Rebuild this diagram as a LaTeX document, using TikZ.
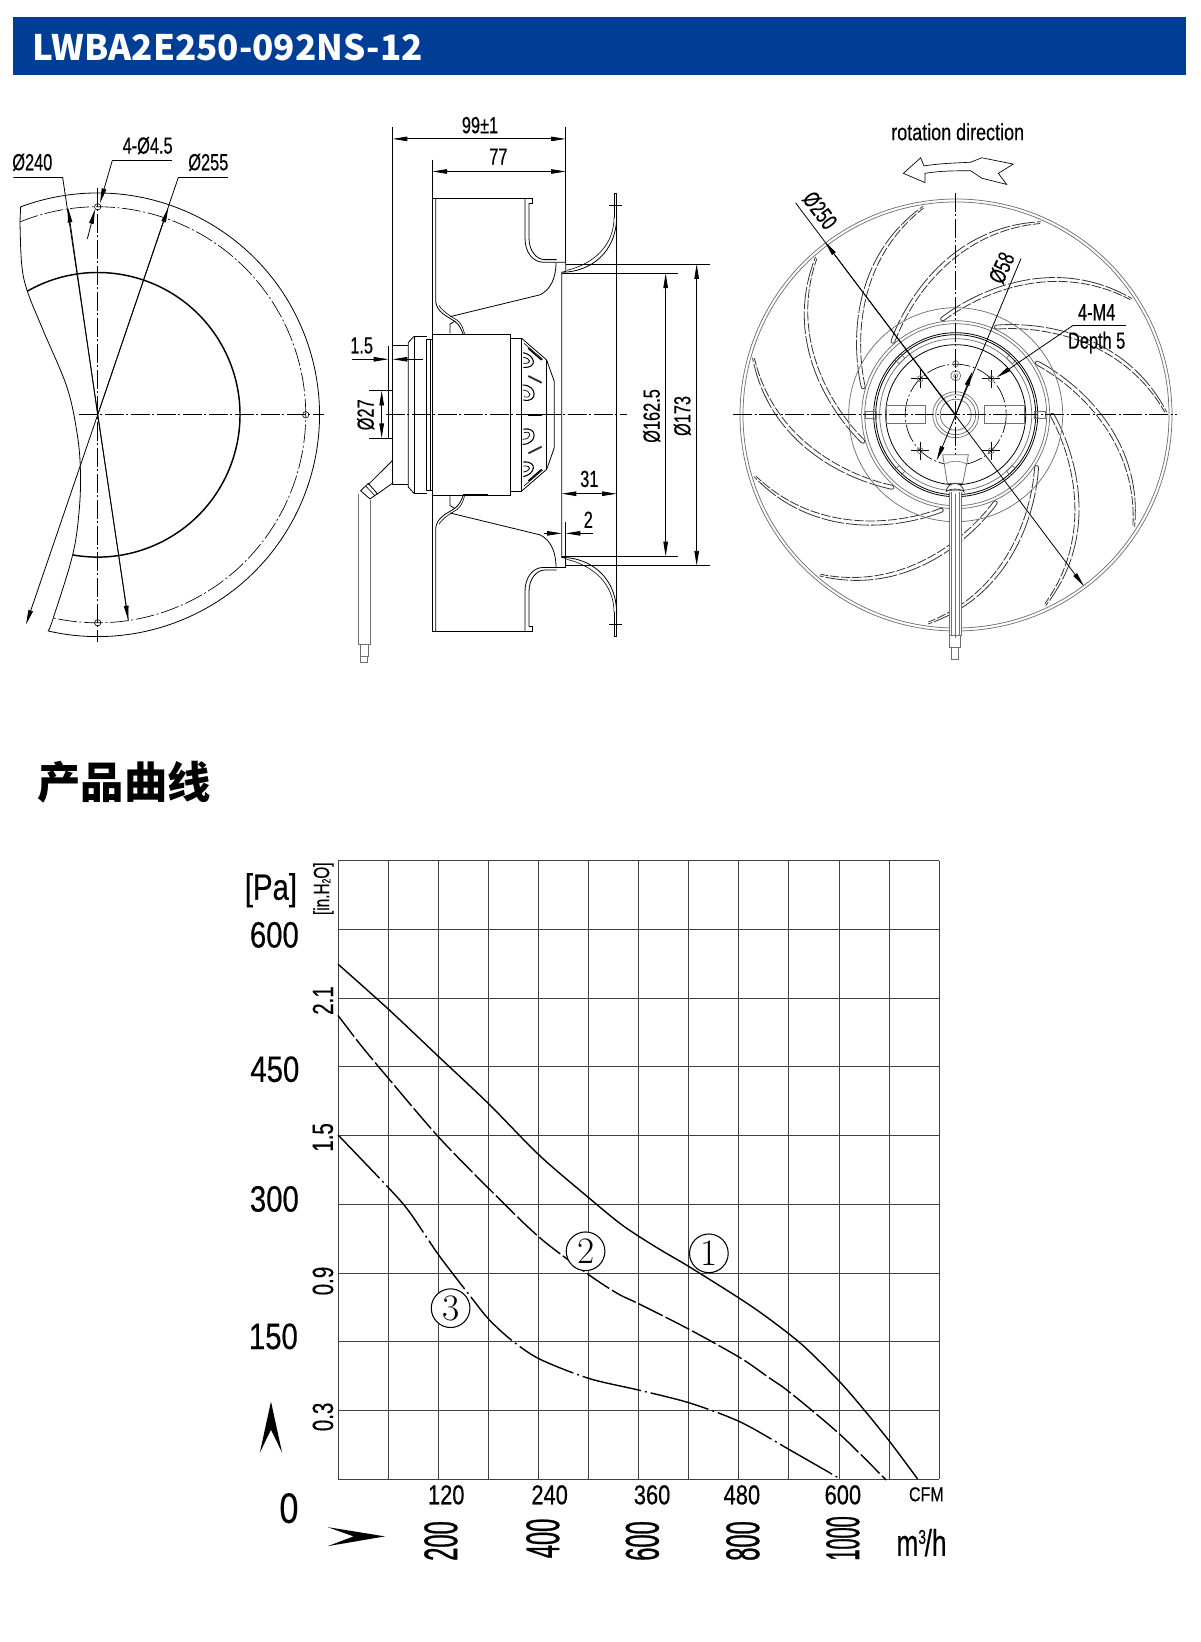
\documentclass[tikz,border=0pt]{standalone}
\usepackage{fontspec}
\usetikzlibrary{arrows.meta}
\newfontfamily\cjk{Noto Sans CJK SC}
\newfontfamily\nar[FakeStretch=0.7,FakeBold=0.35]{Liberation Sans}
\newfontfamily\narb[FakeStretch=0.8,FakeBold=0.35]{Liberation Sans}
\newfontfamily\narc[FakeStretch=0.77,FakeBold=0.35]{Liberation Sans}
\newfontfamily\nars[FakeStretch=0.5,FakeBold=0.6]{Liberation Sans}
\newfontfamily\narx[FakeStretch=0.42,FakeBold=0.6]{Liberation Sans}
\definecolor{bar}{HTML}{003E96}
\definecolor{gr}{HTML}{707070}
\definecolor{bl}{HTML}{333333}
\tikzset{
  dtip/.tip={Stealth[inset=0pt,length=11pt,width=3.4pt]},
  lw/.style={line width=.6pt},
  lt/.style={line width=.45pt},
  lg/.style={line width=.4pt,black!75},
  lthick/.style={line width=1.1pt},
  cline/.style={line width=.5pt,dash pattern=on 14pt off 2pt on 1.5pt off 2pt},
  ring/.style={line width=.55pt,gr},
  lbl/.style={font=\nar\fontsize{17.5}{20}\selectfont,inner sep=0pt},
  zoomA/.style={x=.25pt,y=-.27778pt},
  chartz/.style={x=.3641pt,y=-.3846pt},
  curve/.style={line width=1.05pt,line join=round},
  bigl/.style={font=\narb\fontsize{27.5}{30}\selectfont,inner sep=0pt},
  midl/.style={font=\nar\fontsize{22}{24}\selectfont,inner sep=0pt,rotate=90},
  cfml/.style={font=\narb\fontsize{20.5}{22}\selectfont,inner sep=0pt},
  mhl/.style={font=\nars\fontsize{35.5}{38}\selectfont,inner sep=0pt,rotate=90},
  circl/.style={circle,draw,fill=white,line width=.8pt,minimum size=29pt,inner sep=0pt,font=\fontsize{28}{28}\selectfont}
}
\newcommand{\fanhalf}{%
  \draw[lw] (277,877)--(277,292)--(578,292)--(578,305)--(567,305);
  \draw[lw] (287,292)--(287,570) .. controls (290,600) and (320,610) .. (345,625) .. controls (360,635) and (365,650) .. (370,660);
  \draw[lt] (297,582) .. controls (310,600) and (335,612) .. (352,622) .. controls (365,632) and (370,645) .. (374,660);
  \draw[lw] (330,657)--(330,632)--(345,624);
  \draw[lw] (330,612)--(600,553) .. controls (630,540) and (648,510) .. (648,466);
  \draw[lw] (555,292)--(555,400) .. controls (555,440) and (580,465) .. (610,465)--(677,465);
  \draw[lw] (567,305)--(567,400) .. controls (567,435) and (590,458) .. (615,458)--(650,458);
  \draw[lw] (677,465)--(677,490)--(665,492)--(665,877);
  \draw[lw] (670,492) .. controls (750,490) and (830,440) .. (830,340);
  \draw[lt] (680,487) .. controls (760,470) and (822,420) .. (822,345);
  \draw[lw] (822,345)--(822,278)--(830,278)--(830,877);
  \draw[lt] (808,312)--(845,312);
  \draw[lw] (277,660)--(510,660)--(510,877);
  \draw[lthick] (370,660)--(445,660);
  \draw[lw] (510,670)--(545,670)--(545,877);
  \draw[lw] (277,672)--(260,672)--(260,877);
  \draw[lw] (272,672)--(272,877);
  \draw[lw] (260,665)--(222,665)--(222,877);
  \draw[lw] (222,665)--(205,682)--(205,877);
  \draw[lw] (205,690)--(158,690)--(158,877);
}
\newcommand{\venthalf}{%
  \draw[lw] (65,55)--(140,120)--(163,185)--(163,284);
  \draw[lw] (140,120)--(140,284);
  \draw[line width=1.1pt] (85,85)--(125,120);
  \draw[lt] (72,70)--(128,118);
  \draw[line width=1.4pt,bl] (85,168)--(125,188);
  \draw[line width=.8pt] (70,98) .. controls (105,105) and (115,145) .. (70,142);
  \draw[line width=.6pt] (70,112) .. controls (92,115) and (98,132) .. (70,130);
  \draw[line width=.8pt] (68,195) .. controls (112,195) and (115,250) .. (70,240);
  \draw[line width=.5pt] (68,210) .. controls (95,210) and (98,238) .. (72,230);
}
\begin{document}
\begin{tikzpicture}[x=.75pt,y=-.75pt]
\useasboundingbox (0,0) rectangle (1200,1642);
\fill[white] (0,0) rectangle (1200,1642);
% header
\fill[bar] (13,17.3) rectangle (1186,75);
\node[anchor=base west,inner sep=0pt,text=white,font=\cjk\bfseries\fontsize{26.3}{30}\selectfont] (hdr) at (32.5,60) {LWBA2E250-092NS-12};
\node[anchor=center,inner sep=0pt,font=\cjk\bfseries\fontsize{32.5}{36}\selectfont] (ttl) at (124,782) {产品曲线};

% ---------- left view
\begin{scope}[shift={(97.7,414.8)}]
  \draw[lw] (-110.3:221.8) arc[start angle=-110.3,end angle=103,radius=221.8];
  \draw[cline] (-111.9:208) arc[start angle=-111.9,end angle=102.3,radius=208];
  \draw[lthick] (-119.6:142.3) arc[start angle=-119.6,end angle=100.1,radius=142.3];
  \foreach \p in {(0,-208),(208,0),(0,208)} {\draw[lt] \p circle[radius=3.2];}
\end{scope}
\begin{scope}[shift={(0,90)},zoomA]
  \draw[lw] (62,315)--(60,355) plot[smooth,tension=.6] coordinates {(60,355)(65,470)(82,543)(130,650)(200,800)(230,920)(241,1020)(238,1130)(218,1255)(160,1425)(145,1460)};
  \draw[cline] (237,877)--(972,877);
  \draw[cline] (293,265)--(293,1490);
  \draw[lw] (40,236)--(188,236)--(385,1432);
  \draw[lw,-{dtip}] (293,877)--(204,318);
  \draw[lw,-{dtip}] (293,877)--(385,1432);
  \draw[lw] (535,236)--(685,236);
  \draw[lw,-{dtip}] (293,877)--(78,1443);
  \draw[lw,-{dtip}] (293,877)--(505,318);
  \draw[lw] (535,236)--(293,877);
  \draw[lw] (337,190)--(517,190);
  \draw[lw,-{dtip}] (337,190)--(300,305);
  \draw[lw,-{dtip}] (262,402)--(285,322);
  \node[lbl] (d240) at (97,195) {Ø240};
  \node[lbl] (d45) at (443,150) {4-Ø4.5};
  \node[lbl] (d255) at (625,195) {Ø255};
\end{scope}

% ---------- middle view
\begin{scope}[shift={(340,90)},zoomA]
  \fanhalf
  \begin{scope}[shift={(0,1754)},yscale=-1]\fanhalf\end{scope}
  % cable
  \draw[lw] (158,1000)--(85,1065);
  \draw[lw] (160,1060)--(110,1092);
  \draw[lw] (85,1062)--(62,1082)--(90,1104)--(112,1090)--cycle;
  \draw[lt] (78,1070)--(104,1095);
  \draw[lw,gr] (56,1090)--(56,1497)--(92,1497)--(92,1108);
  \draw[lw,gr] (60,1497)--(60,1530)--(85,1530)--(85,1497);
  \draw[lw,gr] (62,1530)--(62,1546)--(82,1546)--(82,1530);
  % centre line
  \draw[cline] (138,877)--(860,877);
  % dims
  \draw[lt] (158,100)--(158,690);
  \draw[lt] (677,100)--(677,465);
  \draw[lt] (277,188)--(277,292);
  \draw[lw,{dtip}-{dtip}] (158,132)--(677,132);
  \draw[lw,{dtip}-{dtip}] (277,220)--(677,220);
  \node[lbl] (d99) at (420,95) {99±1};
  \node[lbl] (d77) at (475,180) {77};
  \draw[lt] (677,470)--(1110,470);
  \draw[lt] (677,1284)--(1110,1284);
  \draw[lt] (665,495)--(1015,495);
  \draw[lt] (665,1259)--(1015,1259);
  \draw[lw,{dtip}-{dtip}] (977,495)--(977,1259);
  \draw[lw,{dtip}-{dtip}] (1070,470)--(1070,1284);
  \node[lbl,rotate=90] (d162) at (935,880) {Ø162.5};
  \node[lbl,rotate=90] (d173) at (1027,880) {Ø173};
  \node[lbl] (d15) at (65,690) {1.5};
  \draw[lt] (145,690)--(145,940);
  \draw[lw,-{dtip}] (35,727)--(145,727);
  \draw[lw,-{dtip}] (248,727)--(158,727);
  \draw[lt] (88,812)--(158,812);
  \draw[lt] (88,940)--(158,940);
  \draw[lw,{dtip}-{dtip}] (125,812)--(125,940);
  \node[lbl,rotate=90] (d27) at (77,877) {Ø27};
  \draw[lw,{dtip}-{dtip}] (665,1090)--(830,1090);
  \node[lbl] (d31) at (748,1050) {31};
  \draw[lt] (677,1165)--(677,1290);
  \draw[lw,-{dtip}] (612,1197)--(665,1197);
  \draw[lw,-{dtip}] (760,1197)--(677,1197);
  \node[lbl] (d2) at (745,1160) {2};
\end{scope}
\begin{scope}[shift={(500,320)},x=.25pt,y=-.25pt]
  \venthalf
  \begin{scope}[shift={(0,568)},yscale=-1]\venthalf\end{scope}
  \draw[line width=1.5pt] (85,284)--(125,284);
\end{scope}

% ---------- right view
\draw[ring] (956,415) circle[radius=216];
\draw[ring] (956,415) circle[radius=213];
\foreach \k in {0,...,10}{
  \begin{scope}[shift={(955.7,414.7)},rotate=\k*360/11]
    \draw[line width=.6pt,bl,dash pattern=on 17pt off 1.6pt] (41,-89.6) .. controls (85,-93) and (170,-82) .. (211,-2.6);
    \draw[line width=.6pt,bl,dash pattern=on 7pt off 1.4pt] (41,-85.6) .. controls (83,-89) and (166,-78) .. (209,-2.6);
    \draw[line width=.6pt,bl] (41,-89.6) .. controls (38,-89.6) and (38,-85.6) .. (41,-85.6);
  \end{scope}
}
\begin{scope}[shift={(955.7,414.7)}]
  \draw[ring] (0,0) circle[radius=107];
  \draw[ring] (0,0) circle[radius=94];
  \draw[ring] (0,0) circle[radius=91];
  \draw[lw] (0,0) circle[radius=82];
  \draw[lw] (0,0) circle[radius=80];
  \draw[ring] (0,0) circle[radius=76];
  \draw[lw] (0,0) circle[radius=70];
  \draw[cline] (0,0) circle[radius=50.5];
  \draw[ring] (0,0) circle[radius=23];
  \draw[ring] (0,0) circle[radius=20];
  \draw[ring] (0,0) circle[radius=15.5];
  \draw[ring] (-69.7,-9) rectangle (-30,9);
  \draw[ring] (28.3,-9) rectangle (68.3,9);
  \draw[ring] (-90,-3.5) rectangle (-79,3.5);
  \draw[ring] (79,-3.5) rectangle (90,3.5);
  \foreach \a in {-45,-135,45,135} {\draw[ring] (\a-3:82)--(\a-3:76)--(\a+3:76)--(\a+3:82);}
  \foreach \p/\q in {-35.5/-36,35.5/-36,-35.5/36,35.5/36} {
    \draw[lw] (\p-9,\q)--(\p+9,\q);
    \draw[lw] (\p,\q-9)--(\p,\q+9);
    \draw[ring] (\p,\q) circle[radius=3];
  }
  \draw[ring] (0,-51) circle[radius=3];
  \draw[ring] (0,-39) circle[radius=5];
  \draw[ring] (0,-39) circle[radius=2];
\end{scope}
\begin{scope}[shift={(730,90)},zoomA]
  \draw[cline] (10,877)--(1340,877);
  \draw[cline] (677,278)--(677,1000);
  % cable
  \draw[lw,gr,fill=white] (638,985)--(715,985)--(712,1000)--(698,1062)--(652,1062)--(641,1000)--cycle;
  \draw[lt,gr] (645,1010) .. controls (660,1000) and (695,1000) .. (708,1010);
  \draw[lw,gr,fill=white] (658,1085)--(658,1472)--(695,1472)--(695,1085);
  \draw[lt,gr] (665,1085)--(665,1472);
  \draw[lt,gr] (688,1085)--(688,1472);
  \draw[lw,bl,fill=white] (648,1085) .. controls (652,1055) and (698,1055) .. (702,1085) .. controls (695,1075) and (655,1075) .. (648,1085);
  \draw[lt,gr] (677,1090)--(677,1480);
  \draw[lw,gr] (658,1472)--(658,1505)--(692,1505)--(692,1472);
  \draw[lw,gr] (663,1505)--(663,1538)--(685,1538)--(685,1505);
  % leaders
  \draw[lw,-{dtip}] (197,305)--(1062,1340);
  \draw[lw,-{dtip}] (677,877)--(285,410);
  \draw[lw,-{dtip}] (873,455)--(620,1000);
  \draw[lw,-{dtip}] (677,877)--(727,760);
  \draw[lw] (1188,635)--(1030,635);
  \draw[lw,-{dtip}] (1030,635)--(800,776);
  \node[inner sep=0pt,font=\narc\fontsize{17.5}{20}\selectfont] (r1) at (683,113) {rotation direction};
  \node[lbl,rotate=-53] (r2) at (270,325) {Ø250};
  \node[lbl,rotate=66] (r3) at (815,480) {Ø58};
  \node[lbl] (r4) at (1100,600) {4-M4};
  \node[lbl] (r5) at (1100,682) {Depth 5};
  \draw[line width=.5pt,line join=miter] (520,225)--(572,183)--(582,205) .. controls (630,198) and (680,197) .. (722,195)--(755,183)--(850,200)--(805,225)--(830,255)--(755,238)--(722,218) .. controls (680,218) and (630,218) .. (585,225)--(585,250)--cycle;
\end{scope}

% ---------- chart
\foreach \i in {0,...,12} {\draw[lg] ({338+50.08*\i},860.5)--({338+50.08*\i},1479);}
\foreach \i in {0,...,9} {\draw[lg] (338,{860.5+68.72*\i})--(939,{860.5+68.72*\i});}
\begin{scope}[shift={(220,840)},chartz]
  \draw[curve] plot[smooth,tension=.5] coordinates {(243,242)(347,330)(451,423)(554,515)(658,615)(760,698)(830,752)(900,795)(968,833)(1072,895)(1130,933)(1200,985)(1278,1058)(1330,1115)(1381,1175)(1437,1246)};
  \draw[curve,dash pattern=on 20pt off 2.5pt] plot[smooth,tension=.5] coordinates {(243,342)(290,400)(347,465)(451,580)(554,680)(658,775)(760,848)(820,885)(864,905)(968,955)(1072,1010)(1130,1048)(1175,1078)(1278,1160)(1372,1248)};
  \draw[curve,dash pattern=on 45pt off 3pt on 1.5pt off 3pt] plot[smooth,tension=.5] coordinates {(243,575)(347,678)(390,725)(451,810)(520,895)(554,935)(600,975)(658,1012)(760,1050)(864,1073)(968,1098)(1072,1135)(1175,1190)(1278,1246)};
  \node[circl] (c1) at (1007,806) {1};
  \node[circl] (c2) at (753,802) {2};
  \node[circl] (c3) at (475,913) {3};
  \node[bigl] (yp) at (105,98) {[Pa]};
  \node[bigl] (y600) at (112,185) {600};
  \node[bigl] (y450) at (113,447) {450};
  \node[bigl] (y300) at (112,700) {300};
  \node[bigl] (y150) at (110,968) {150};
  \node[bigl,font=\narb\fontsize{32}{34}\selectfont] (y0) at (142,1303) {0};
  \node[inner sep=0pt,rotate=90,font=\nar\fontsize{16.5}{18}\selectfont] (in) at (213,95) {[in.H\raisebox{-1pt}{\fontsize{9}{9}\selectfont 2}O]};
  \node[midl] (a) at (212,313) {2.1};
  \node[midl] (b) at (212,580) {1.5};
  \node[midl] (cc) at (212,860) {0.9};
  \node[midl] (dd) at (212,1125) {0.3};
  \node[cfml] (x1) at (466,1277) {120};
  \node[cfml] (x2) at (679,1277) {240};
  \node[cfml] (x3) at (890,1277) {360};
  \node[cfml] (x4) at (1075,1277) {480};
  \node[cfml] (x5) at (1283,1277) {600};
  \node[inner sep=0pt,font=\narb\fontsize{15}{16}\selectfont] (cfm) at (1455,1276) {CFM};
  \node[mhl] (m1) at (455,1367) {200};
  \node[mhl] (m2) at (665,1362) {400};
  \node[mhl] (m3) at (870,1367) {600};
  \node[mhl] (m4) at (1077,1367) {800};
  \node[mhl,font=\narx\fontsize{35.5}{38}\selectfont] (m5) at (1283,1362) {1000};
  \node[inner sep=0pt,font=\nar\fontsize{28}{30}\selectfont] (mh) at (1445,1370) {m\raisebox{9pt}{\fontsize{15}{15}\selectfont 3}\kern-1pt/h};
  \fill (105,1095)--(128,1195)--(105,1150)--(82,1195)--cycle;
  \fill (222,1340)--(340,1358)--(222,1377)--(275,1358)--cycle;
\end{scope}
\end{tikzpicture}
\end{document}
